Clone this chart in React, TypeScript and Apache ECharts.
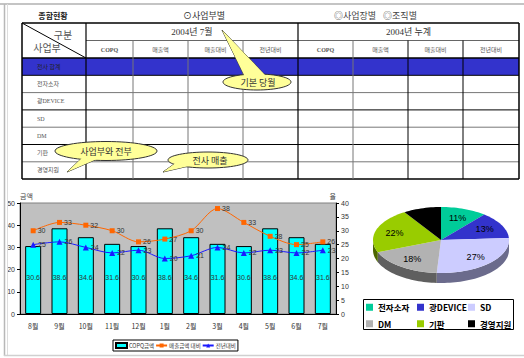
import React, { useEffect, useRef } from 'react';
import * as echarts from 'echarts';

// ---------- data ----------
const titleText = '종합현황';
const viewOptions = ['⊙사업부별', '◎사업장별', '◎조직별'];
const headerCorner = ['구분', '사업부'];
const periods = ['2004년 7월', '2004년 누계'];
const tableCols = ['COPQ', '매출액', '매출대비', '전년대비'];
const tableRows = ['전사 합계', '전자소자', '광DEVICE', 'SD', 'DM', '기판', '경영지원'];
const callouts = ['기본 당월', '사업부와 전부', '전사 매출'];

const months = ['8월', '9월', '10월', '11월', '12월', '1월', '2월', '3월', '4월', '5월', '6월', '7월'];
const copq = [30.6, 38.6, 34.6, 31.6, 30.6, 38.6, 34.6, 31.6, 30.6, 38.6, 34.6, 31.6];
const salesRatio = [30, 33, 32, 30, 26, 27, 30, 38, 33, 28, 25, 26];
const yoyRatio = [25, 26, 24, 22, 23, 20, 21, 24, 22, 23, 22, 23];
const seriesNames = ['COPQ금액', '매출금액 대비', '전년대비'];
const axisNames = ['금액', '율'];

const pieNames = ['전자소자', '광DEVICE', 'SD', 'DM', '기판', '경영지원'];
const pieValues = [11, 13, 27, 18, 22, 9];
const pieColors = ['#00CC99', '#3333CC', '#CCCCFF', '#B2B2B2', '#99CC00', '#000000'];
const pieSideColors = ['#00664D', '#1A1A66', '#6B6B8C', '#5F5F5F', '#4D6600', '#000000'];

const SANS = "'Liberation Sans', 'Noto Sans CJK KR', sans-serif";
const SERIF = "'Liberation Serif', 'Noto Sans CJK KR', serif";
const KR = "'Noto Sans CJK KR', 'Liberation Sans', sans-serif";

function buildGraphic() {
  const g: any[] = [];
  const line = (x1: number, y1: number, x2: number, y2: number, stroke = '#000', w = 1, z = 1) =>
    g.push({ type: 'line', z, silent: true, shape: { x1, y1, x2, y2 }, style: { stroke, lineWidth: w } });
  const text = (x: number, y: number, t: string, font: string, fill = '#333', align = 'center', z = 5) =>
    g.push({ type: 'text', z, silent: true, x, y, style: { text: t, font, fill, textAlign: align, textVerticalAlign: 'middle' } });

  // page frame
  line(0, 4, 524, 4, '#C4C4C4', 2);
  line(4.5, 4, 4.5, 356, '#B8B8B8', 1.5);
  line(7.5, 4, 7.5, 356, '#DDDDDD', 1);
  line(4, 355.5, 524, 355.5, '#D0D0D0', 1.5);

  // title
  text(53, 15.5, titleText, `bold 8px ${KR}`, '#222');
  text(204, 15.5, viewOptions[0], `9px ${KR}`, '#333');
  text(355, 15.5, viewOptions[1], `9px ${KR}`, '#444');
  text(400, 15.5, viewOptions[2], `9px ${KR}`, '#444');

  // table
  const colX = [22, 86, 133, 188, 243, 298, 353, 408, 463, 519];
  const yTop = 23, yH1 = 40.5, yH2 = 58, rowH = 17.3;
  const yBot = yH2 + rowH * tableRows.length;
  g.push({ type: 'rect', z: 0, silent: true, shape: { x: 22, y: yH2, width: 497, height: rowH }, style: { fill: '#3333CC' } });
  line(22, yTop, 519, yTop, '#000', 1.5);
  line(86, yH1, 519, yH1, '#666', 1);
  line(22, yH2, 519, yH2, '#000', 1.5);
  tableRows.forEach((_, i) => {
    const y = yH2 + rowH * (i + 1);
    line(22, y, 519, y, i === tableRows.length - 1 ? '#000' : i % 2 === 0 ? '#000' : '#777', i === tableRows.length - 1 ? 1.5 : 1);
  });
  colX.forEach((x, i) => {
    if (i === 0 || i === colX.length - 1) line(x, yTop, x, yBot, '#000', 1.5);
    else if (i === 1 || i === 5) line(x, yTop, x, yBot, '#000', 1.2);
    else line(x, yH1, x, yBot, i >= 7 ? '#000' : '#777', 1);
  });
  line(22, yTop, 86, yH2, '#000', 1);
  text(63, 34, headerCorner[0], `10px ${KR}`, '#555');
  text(47, 47.5, headerCorner[1], `10px ${KR}`, '#555');
  text((colX[1] + colX[5]) / 2, 32, periods[0], `9px ${SERIF}`, '#333');
  text((colX[5] + colX[9]) / 2, 32, periods[1], `9px ${SERIF}`, '#333');
  for (let p = 0; p < 2; p++) {
    tableCols.forEach((c, j) => {
      const i = 1 + p * 4 + j;
      text((colX[i] + colX[i + 1]) / 2, 49.5, c, j === 0 ? `bold 6px ${SERIF}` : `6px ${KR}`, '#555');
    });
  }
  tableRows.forEach((r, i) => {
    text(37, yH2 + rowH * i + rowH / 2, r, `6px ${SERIF}`, i === 0 ? '#222' : '#555', 'left');
  });

  // callouts
  const bubble = (cx: number, cy: number, rx: number, ry: number, tail: number[][], t: string, tx: number) => {
    g.push({ type: 'polygon', z: 6, silent: true, shape: { points: tail }, style: { fill: '#FFFF99', stroke: '#333', lineWidth: 1 } });
    g.push({ type: 'ellipse', z: 7, silent: true, shape: { cx, cy, rx, ry }, style: { fill: '#FFFF99', stroke: '#333', lineWidth: 1 } });
    g.push({ type: 'polygon', z: 8, silent: true, shape: { points: tail }, style: { fill: '#FFFF99' } });
    text(tx, cy, t, `9px ${KR}`, '#333', 'center', 9);
  };
  bubble(257, 82, 34, 8, [[222, 30], [245, 77], [266, 76]], callouts[0], 258);
  bubble(106, 151, 51, 9.5, [[67, 172], [83, 157], [97, 159]], callouts[1], 106);
  bubble(208, 160, 40, 8, [[163, 172], [177, 162], [189, 166]], callouts[2], 210);

  // pie legend box
  g.push({ type: 'rect', z: 0, silent: true, shape: { x: 363.5, y: 299.5, width: 150, height: 30 }, style: { fill: '#fff', stroke: '#000', lineWidth: 1 } });
  return g;
}

const PCX = 441, PCY = 240, PRX = 68, PRY = 33, PDEPTH = 10;

export default function App() {
  const ref = useRef<HTMLDivElement>(null);
  useEffect(() => {
    document.body.style.margin = '0';
    if (!ref.current) return;
    const chart = echarts.init(ref.current, undefined, { renderer: 'svg' });

    const total = pieValues.reduce((a, b) => a + b, 0);
    let acc = 0;
    const pieData = pieValues.map((v, i) => {
      const row = [v, acc, acc + v, i];
      acc += v;
      return row;
    });
    const ang = (f: number) => -Math.PI / 2 + 2 * Math.PI * f;
    const arc = (a0: number, a1: number, dy = 0) => {
      const n = Math.max(2, Math.ceil(((a1 - a0) / (2 * Math.PI)) * 160));
      const pts: number[][] = [];
      for (let k = 0; k <= n; k++) {
        const a = a0 + ((a1 - a0) * k) / n;
        pts.push([PCX + PRX * Math.cos(a), PCY + PRY * Math.sin(a) + dy]);
      }
      return pts;
    };

    const legendBase = {
      icon: 'rect',
      itemWidth: 7,
      itemHeight: 7,
      orient: 'vertical',
      itemGap: 8,
      padding: 0,
      selectedMode: false,
      textStyle: { fontSize: 8.5, fontWeight: 'bold', color: '#000', fontFamily: KR },
    };

    const option: any = {
      animation: false,
      backgroundColor: '#fff',
      textStyle: { fontFamily: SANS },
      grid: { left: 20, top: 203, width: 316, height: 111, show: true, backgroundColor: '#C0C0C0', borderColor: '#808080', borderWidth: 1 },
      xAxis: {
        type: 'category',
        data: months,
        axisLine: { lineStyle: { color: '#000' } },
        axisTick: { show: false },
        axisLabel: { fontSize: 7, color: '#333', margin: 8, fontFamily: KR },
      },
      yAxis: [
        {
          type: 'value', min: 0, max: 50, interval: 10, name: axisNames[0], nameGap: 2,
          nameTextStyle: { fontSize: 7, color: '#444', align: 'left', fontFamily: KR },
          axisLine: { show: true, lineStyle: { color: '#000' } },
          axisTick: { show: true, length: 3, lineStyle: { color: '#000' } },
          axisLabel: { fontSize: 7, color: '#333', margin: 5 },
          splitLine: { show: false },
        },
        {
          type: 'value', position: 'right', min: 0, max: 40, interval: 5, name: axisNames[1], nameGap: 2,
          nameTextStyle: { fontSize: 7, color: '#444', align: 'right', fontFamily: KR },
          axisLine: { show: true, lineStyle: { color: '#000' } },
          axisTick: { show: true, length: 3, lineStyle: { color: '#000' } },
          axisLabel: { fontSize: 7, color: '#333', margin: 5 },
          splitLine: { show: false },
        },
      ],
      legend: [
        {
          data: [{ name: seriesNames[0], icon: 'rect' }, seriesNames[1], seriesNames[2]],
          left: 113, top: 340, itemWidth: 11, itemHeight: 5, itemGap: 1,
          padding: [2, 2, 2, 2], borderColor: '#000', borderWidth: 1, selectedMode: false,
          textStyle: { fontSize: 5.5, color: '#333', fontFamily: KR, padding: [0, 0, 0, -3] },
        },
        { ...legendBase, data: [pieNames[0], pieNames[3]], left: 366, top: 303 },
        { ...legendBase, data: [pieNames[1], pieNames[4]], left: 417, top: 303 },
        { ...legendBase, data: [pieNames[2], pieNames[5]], left: 468, top: 303 },
      ],
      series: [
        {
          type: 'bar', name: seriesNames[0], data: copq, barWidth: 16,
          itemStyle: { color: '#00FFFF', borderColor: '#000', borderWidth: 1 },
          label: { show: true, position: 'insideBottom', distance: 33, fontSize: 7, color: '#333' },
        },
        {
          type: 'line', name: seriesNames[1], data: salesRatio, yAxisIndex: 1, smooth: 0.3,
          color: '#FF6600', symbol: 'rect', symbolSize: 5,
          lineStyle: { width: 1, color: '#FF6600' },
          label: { show: true, position: 'right', distance: 2, fontSize: 7, color: '#333' },
        },
        {
          type: 'line', name: seriesNames[2], data: yoyRatio, yAxisIndex: 1, smooth: 0.3,
          color: '#1A1AFF', symbol: 'triangle', symbolSize: 6,
          lineStyle: { width: 1, color: '#1A1AFF' },
          label: { show: true, position: 'right', distance: 2, fontSize: 7, color: '#333' },
        },
        {
          type: 'pie', name: 'pieLegend', radius: 1, center: [-50, -50], silent: true,
          label: { show: false }, labelLine: { show: false },
          data: pieNames.map((n, i) => ({ name: n, value: pieValues[i], itemStyle: { color: pieColors[i] } })),
        },
        {
          type: 'custom', coordinateSystem: 'none', silent: true, z: 2, data: pieData,
          renderItem: (params: any, api: any) => {
            const i = api.value(3);
            const a0 = ang(api.value(1) / total), a1 = ang(api.value(2) / total);
            const lo = Math.max(a0, 0), hi = Math.min(a1, Math.PI);
            if (lo >= hi) return { type: 'group', children: [] };
            const top = arc(lo, hi, 0);
            const bot = arc(lo, hi, PDEPTH).reverse();
            return { type: 'polygon', shape: { points: top.concat(bot) }, style: { fill: pieSideColors[i] } };
          },
        },
        {
          type: 'custom', coordinateSystem: 'none', silent: true, z: 3, data: pieData,
          renderItem: (params: any, api: any) => {
            const i = api.value(3);
            const v = api.value(0);
            const a0 = ang(api.value(1) / total), a1 = ang(api.value(2) / total);
            const mid = (a0 + a1) / 2;
            return {
              type: 'group',
              children: [
                { type: 'polygon', shape: { points: [[PCX, PCY]].concat(arc(a0, a1)) }, style: { fill: pieColors[i] } },
                {
                  type: 'text', x: PCX + PRX * 0.72 * Math.cos(mid), y: PCY + PRY * 0.72 * Math.sin(mid),
                  style: { text: `${Math.round((v / total) * 100)}%`, font: `9px ${SANS}`, fill: '#000', textAlign: 'center', textVerticalAlign: 'middle' },
                },
              ],
            };
          },
        },
      ],
      graphic: { elements: buildGraphic() },
    };
    chart.setOption(option);
    return () => chart.dispose();
  }, []);
  return <div ref={ref} style={{ width: 524, height: 358 }} />;
}
